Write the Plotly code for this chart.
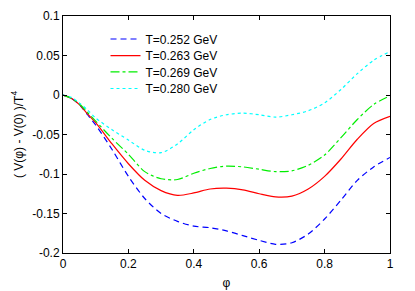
import plotly.graph_objects as go

phi = [0, 0.025, 0.05, 0.075, 0.1, 0.15, 0.2, 0.25, 0.3, 0.35, 0.4, 0.45, 0.5, 0.55, 0.6, 0.65, 0.7, 0.75, 0.8, 0.85, 0.9, 0.95, 1.0]
v_252 = [0, -0.004, -0.012, -0.025, -0.038, -0.069, -0.103, -0.131, -0.150, -0.160, -0.166, -0.168, -0.172, -0.178, -0.184, -0.189, -0.187, -0.176, -0.157, -0.133, -0.108, -0.091, -0.079]
v_263 = [0, -0.004, -0.012, -0.024, -0.035, -0.062, -0.087, -0.108, -0.121, -0.127, -0.124, -0.119, -0.118, -0.120, -0.125, -0.129, -0.128, -0.119, -0.103, -0.081, -0.056, -0.036, -0.027]
v_269 = [0, -0.004, -0.011, -0.022, -0.033, -0.055, -0.075, -0.097, -0.106, -0.107, -0.099, -0.093, -0.090, -0.091, -0.094, -0.097, -0.096, -0.089, -0.076, -0.054, -0.031, -0.012, -0.001]
v_280 = [0, -0.003, -0.010, -0.019, -0.029, -0.044, -0.057, -0.070, -0.073, -0.062, -0.044, -0.031, -0.025, -0.023, -0.025, -0.028, -0.025, -0.020, -0.010, 0.007, 0.027, 0.044, 0.055]

names = ["T=0.252 GeV", "T=0.263 GeV", "T=0.269 GeV", "T=0.280 GeV"]
series = [v_252, v_263, v_269, v_280]
colors = ["#0000ff", "#ff0000", "#00ee00", "#00ffff"]
dashes = ["6px,4px", "solid", "dashdot", "dot"]
legend_ids = ["legend", "legend2", "legend3", "legend4"]
legend_y = [0.903, 0.833, 0.764, 0.694]

fig = go.Figure()
for n, s, c, d, lg in zip(names, series, colors, dashes, legend_ids):
    fig.add_trace(go.Scatter(x=phi, y=s, name=n, mode="lines", legend=lg, showlegend=True,
                             line=dict(color=c, dash=d, width=1.2, shape="spline", smoothing=0.8)))

axis_common = dict(showgrid=False, zeroline=False, showline=True, linecolor="black", linewidth=1,
                   mirror="allticks", ticks="inside", ticklen=4, tickcolor="black", automargin=False,
                   tickfont=dict(size=12, color="black"))
legend_style = dict(x=0.13, xanchor="left", yanchor="middle", bgcolor="rgba(0,0,0,0)",
                    font=dict(size=12), itemwidth=30, visible=True)
fig.update_layout(
    width=407, height=283,
    margin=dict(l=55, r=25, t=8, b=38),
    showlegend=True,
    paper_bgcolor="white", plot_bgcolor="white",
    font=dict(family="Liberation Sans, Arial, sans-serif", size=12, color="black"),
    xaxis=dict(range=[0, 1], tickvals=[0, 0.2, 0.4, 0.6, 0.8, 1], ticktext=["0", "0.2", "0.4", "0.6", "0.8", "1"],
               title=dict(text="φ", standoff=8, font=dict(size=12)), **axis_common),
    yaxis=dict(range=[-0.2, 0.1], tickvals=[-0.2, -0.15, -0.1, -0.05, 0, 0.05, 0.1],
               ticktext=["-0.2", "-0.15", "-0.1", "-0.05", "0", "0.05", "0.1"],
               title=dict(text="( V(φ) - V(0) )/T<sup>4</sup>", standoff=6, font=dict(size=12)), **axis_common),
    legend=dict(y=legend_y[0], **legend_style),
    legend2=dict(y=legend_y[1], **legend_style),
    legend3=dict(y=legend_y[2], **legend_style),
    legend4=dict(y=legend_y[3], **legend_style),
)
fig.write_html("out.html")
